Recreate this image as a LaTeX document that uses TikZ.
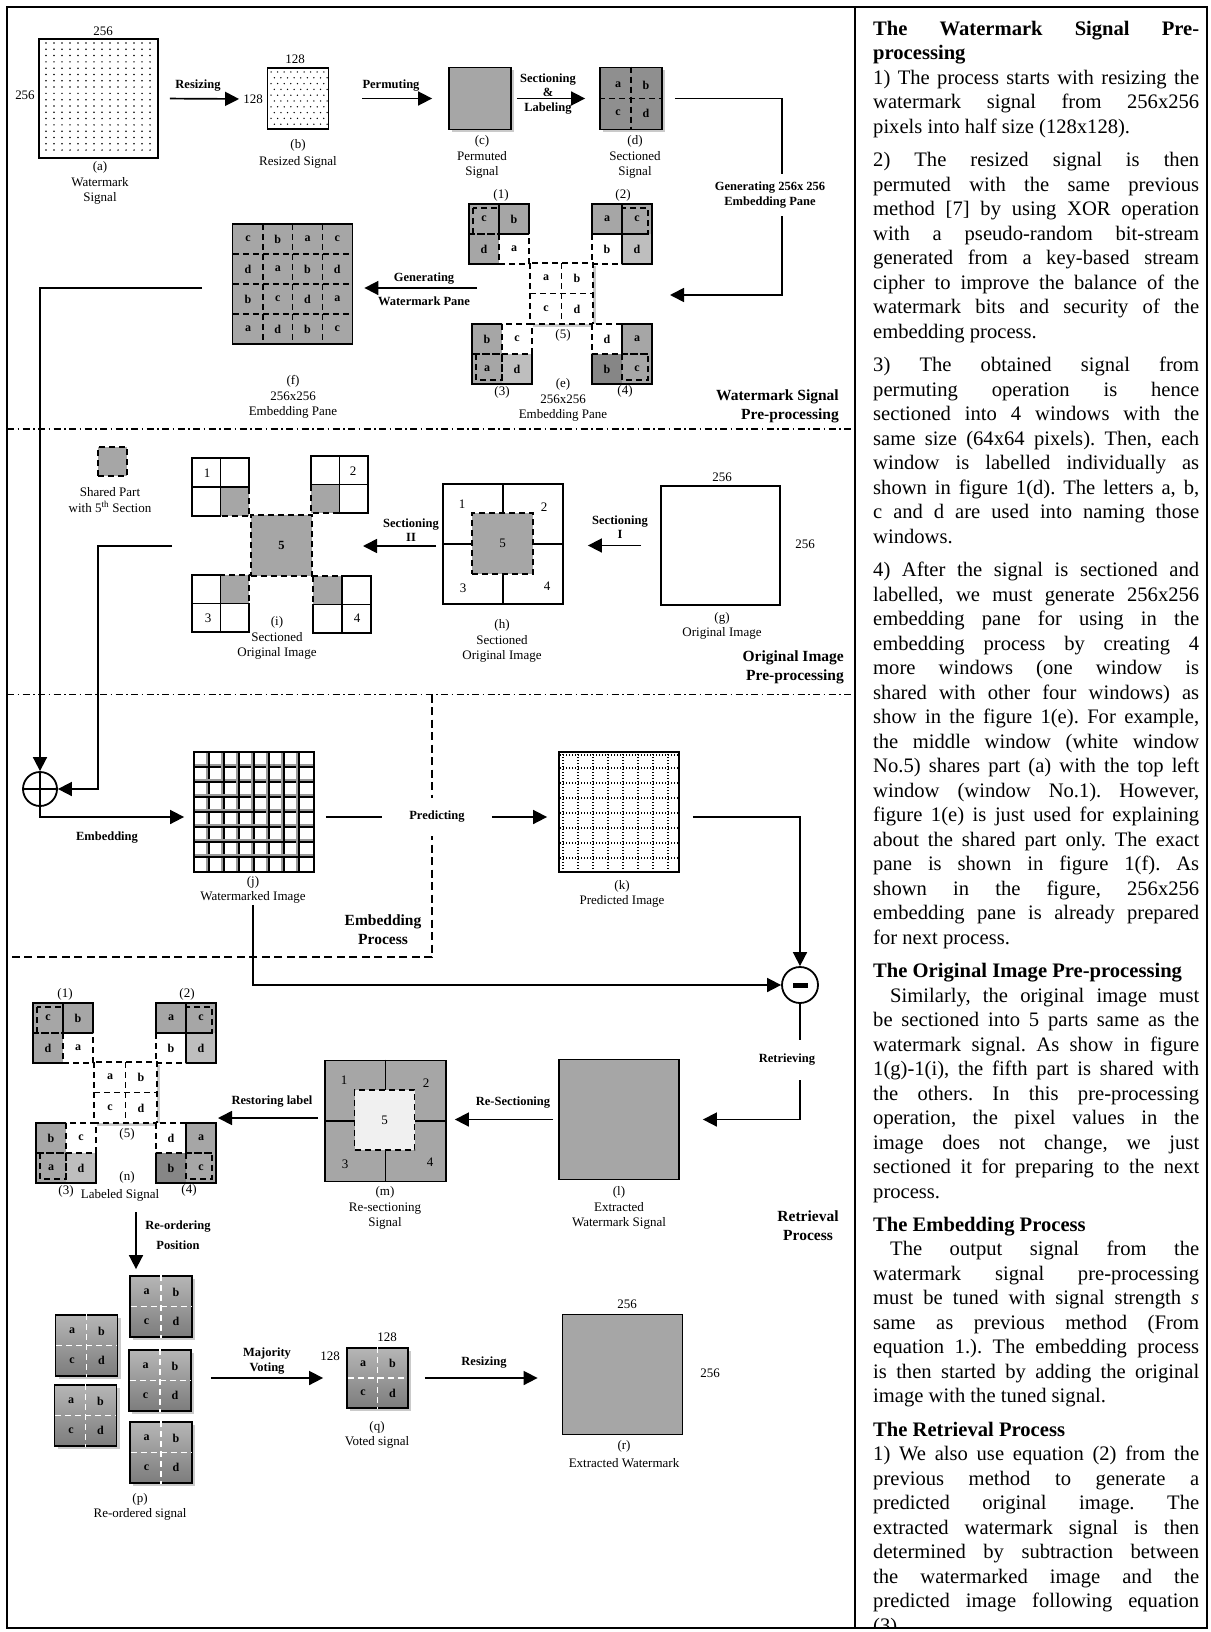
\documentclass[tikz,border=0pt]{standalone}
\usepackage{fontspec}
\setmainfont{Liberation Serif}
\usetikzlibrary{arrows.meta,positioning,calc,shadows}
\definecolor{SigGray}{HTML}{A6A6A6}
\definecolor{SigDark}{HTML}{8F8F8F}
\definecolor{SigLight}{HTML}{BEBEBE}
\definecolor{SigDeep}{HTML}{868686}
\definecolor{SigShadow}{HTML}{CACACA}
\definecolor{SigPale}{HTML}{F0F0F0}
\definecolor{ShadeTop}{HTML}{B6B6B6}
\definecolor{ShadeBot}{HTML}{7C7C7C}
\definecolor{GridShade}{HTML}{9A9A9A}

\newcommand\capsize{\fontsize{13}{15.5}\selectfont}
\newcommand\lblsize{\bfseries\fontsize{12.5}{14.5}\selectfont}
\newcommand\secsize{\bfseries\fontsize{15.5}{19}\selectfont}
\newcommand\cellsize{\bfseries\fontsize{12}{14}\selectfont}

% the 5-window embedding pane, origin = top left of window (1)
\tikzset{
  pics/embpane/.style={code={
    % window (1)
    \fill[SigGray] (0,0) rectangle (60,60);
    \fill[white] (30,30) rectangle (60,60);
    \draw[rim] (30,60) -- (0,60) -- (0,0) -- (60,0) -- (60,30);
    \draw[dashline] (30,0) -- (30,60) (0,30) -- (60,30) (30,30) rectangle (60,60) (4,4) rectangle (30,30);
    \node[cellbf] (-1c) at (15,15) {c};
    \node[cellbf] (-1b) at (45,15) {b};
    \node[cellbf] (-1d) at (15,45) {d};
    \node[cellbf] (-1a) at (45,45) {a};
    % window (2)
    \fill[SigGray] (123,0) rectangle (183,60);
    \fill[SigLight] (153,30) rectangle (183,60);
    \fill[white] (123,30) rectangle (153,60);
    \draw[rim] (153,60) -- (183,60) -- (183,0) -- (123,0) -- (123,30);
    \draw[dashline] (153,0) -- (153,60) (123,30) -- (183,30) (123,30) rectangle (153,60) (153,4) rectangle (179,30);
    \node[cellbf] (-2a) at (138,15) {a};
    \node[cellbf] (-2c) at (168,15) {c};
    \node[cellbf] (-2b) at (138,45) {b};
    \node[cellbf] (-2d) at (168,45) {d};
    % window (5)
    \fill[SigShadow] (64,62) rectangle (127,123);
    \filldraw[fill=white, dashline] (61,59) rectangle (124,120);
    \draw[dashline] (92.5,59) -- (92.5,120) (61,89.5) -- (124,89.5);
    \node[cellbf] (-5a) at (77,74) {a};
    \node[cellbf] (-5b) at (108,74) {b};
    \node[cellbf] (-5c) at (77,105) {c};
    \node[cellbf] (-5d) at (108,105) {d};
    % window (3)
    \fill[SigGray] (3,120) rectangle (63,180);
    \fill[SigLight] (33,150) rectangle (63,180);
    \fill[white] (33,120) rectangle (63,150);
    \draw[rim] (33,120) -- (3,120) -- (3,180) -- (63,180) -- (63,150);
    \draw[dashline] (33,120) -- (33,180) (3,150) -- (63,150) (33,120) rectangle (63,150) (7,150) rectangle (33,176);
    \node[cellbf] (-3b) at (18,135) {b};
    \node[cellbf] (-3c) at (48,135) {c};
    \node[cellbf] (-3a) at (18,165) {a};
    \node[cellbf] (-3d) at (48,165) {d};
    % window (4)
    \fill[SigGray] (123,120) rectangle (183,180);
    \fill[SigDeep] (123,150) rectangle (153,180);
    \fill[white] (123,120) rectangle (153,150);
    \draw[rim] (153,120) -- (183,120) -- (183,180) -- (123,180) -- (123,150);
    \draw[dashline] (153,120) -- (153,180) (123,150) -- (183,150) (123,120) rectangle (153,150) (153,150) rectangle (179,176);
    \node[cellbf] (-4d) at (138,135) {d};
    \node[cellbf] (-4a) at (168,135) {a};
    \node[cellbf] (-4b) at (138,165) {b};
    \node[cellbf] (-4c) at (168,165) {c};
    % window numbers
    \node[captxt] (-n1) at (32,-9) {(1)};
    \node[captxt] (-n2) at (154,-9) {(2)};
    \node[captxt] (-n5) at (94,131) {(5)};
    \node[captxt] (-n3) at (33,188) {(3)};
    \node[captxt] (-n4) at (156,187) {(4)};
  }}
}

\begin{document}
\begin{tikzpicture}[x=1pt,y=-1pt,
  rim/.style={line width=1.8pt},
  dashline/.style={line width=1.5pt, dash pattern=on 6pt off 4pt},
  sepline/.style={line width=1.5pt, dash pattern=on 7pt off 3.5pt on 1.5pt off 3.5pt},
  boxline/.style={line width=1.6pt, dash pattern=on 8pt off 4.5pt},
  dotgrid/.style={line width=1.3pt, dash pattern=on 1.3pt off 1.7pt},
  box/.style={draw, line width=1.8pt, inner sep=0pt, minimum size=#1},
  box/.default=60pt,
  shadowed/.style={drop shadow={shadow xshift=3pt, shadow yshift=-3pt, fill=SigShadow, opacity=1}},
  gquad/.style={draw, line width=1.8pt, inner sep=0pt, minimum width=62pt, minimum height=61pt,
    top color=ShadeTop, bottom color=ShadeBot, shadowed},
  captxt/.style={font=\capsize, align=center, inner sep=1pt},
  lbl/.style={font=\lblsize, align=center, inner sep=1pt},
  sec/.style={font=\secsize, align=center, inner sep=1pt},
  cellbf/.style={font=\cellsize, inner sep=0pt},
  conn/.style={line width=1.7pt},
  arr/.style={line width=1.7pt, -{Triangle[length=14pt,width=14pt]}}]
\useasboundingbox (0,0) rectangle (1210,1632);

% frame and separators
\draw[line width=1.8pt] (7,7) rectangle (1207,1628);
\draw[line width=1.8pt] (855,7) -- (855,1628);
\draw[sepline] (7,429) -- (855,429);
\draw[sepline] (7,694.5) -- (855,694.5);
\draw[boxline] (432,694.5) -- (432,957) -- (7,957);

% ---- watermark signal pre-processing ----
\foreach \i in {0,...,13} \foreach \j in {0,...,17} \fill (46+8*\i, 43+6.3*\j) circle (0.85);
\node[box=119pt] (wa) at (98.5,98.5) {};
\node[captxt] (wa-top) at (103,31) {256};
\node[captxt] (wa-side) at (25,95) {256};
\node[captxt] (wa-cap) at (100,183) {(a)\\Watermark\\Signal};

\foreach \j in {0,...,9} \foreach \i in {0,...,8} \fill ({271+6.6*\i+3.3*mod(\j,2)}, {72+5.8*\j}) circle (0.75);
\node[box=61pt] (wb) at (298,98.5) {};
\node[captxt] (wb-top) at (295,59) {128};
\node[captxt] (wb-side) at (253,99) {128};
\node[captxt] (wb-cap) at (298,154) {(b)\\[1.5pt]Resized Signal};

\node[box=62pt, fill=SigGray, shadowed] (wc) at (480,98.5) {};
\node[captxt] (wc-cap) at (482,157) {(c)\\Permuted\\Signal};

\node[box=62pt, fill=SigDark, shadowed] (wd) at (631,98.5) {};
\draw[dashline] (wd.north) -- (wd.south) (wd.west) -- (wd.east);
\node[cellbf] (wd-a) at (618,85) {a};
\node[cellbf] (wd-b) at (646,85) {b};
\node[cellbf] (wd-c) at (618,113) {c};
\node[cellbf] (wd-d) at (646,113) {d};
\node[captxt] (wd-cap) at (635,157) {(d)\\Sectioned\\Signal};

\draw[arr, shorten <=11pt, shorten >=3pt] (wa.east) -- (wb-side.west);
\node[lbl] (l-resize) at (198,86) {Resizing};
\draw[arr, shorten <=33pt, shorten >=16pt] (wb.east) -- (wc.west);
\node[lbl] (l-perm) at (391,86) {Permuting};
\draw[arr, shorten <=5pt, shorten >=14pt] (wc.east) -- (wd.west);
\node[lbl] (l-sect) at (548,94) {Sectioning\\\&\\Labeling};

\coordinate (d-turn) at (782,98.5);
\coordinate (e-in) at (670,295);
\draw[arr, shorten <=12pt] (wd.east) -- (d-turn) |- (e-in);
\node[lbl, fill=white, inner ysep=8pt] (l-gen) at (770,195) {Generating 256x 256\\Embedding Pane};

\pic (e) at (469,204) {embpane};
\node[captxt] (e-cap) at (563,400) {(e)\\256x256\\Embedding Pane};

\node[box=120pt, fill=SigGray] (wf) at (292.5,284) {};
\foreach \k in {1,2,3} {
  \draw[dashline] ({233+29.75*\k},224) -- ++(0,120);
  \draw[dashline] (233,{224+30*\k}) -- ++(119,0);
}
\foreach \t [count=\k from 0] in {c,b,a,c,d,a,b,d,b,c,d,a,a,d,b,c}
  \node[cellbf] (wf-\k) at ({248+29.75*mod(\k,4)}, {239+30*floor(\k/4)}) {\t};
\node[captxt] (wf-cap) at (293,397) {(f)\\256x256\\Embedding Pane};

\coordinate (e-out) at (477,288);
\draw[arr, shorten >=11pt] (e-out) -- (e-out -| wf.east);
\node[lbl] (l-wpane) at (424,289) {Generating\\[9.5pt]Watermark Pane};

\node[sec, anchor=east, align=right] (s-wm) at (840,406) {Watermark Signal\\Pre-processing};

% ---- original image pre-processing ----
\node[draw, dashline, fill=SigGray, minimum size=29pt, inner sep=0pt] (legend) at (112.5,461.5) {};
\node[captxt] (legend-cap) at (110,500) {Shared Part\\with 5\textsuperscript{th} Section};

% (i) sectioned original image
\fill[SigGray] (220.5,487) rectangle (249,516);
\draw[rim] (192,458) rectangle (249,487) (192,458) rectangle (220.5,516);
\draw[dashline] (220.5,487) rectangle (249,516);
\node[captxt] (wi-1) at (207,473) {1};
\fill[SigGray] (311,484.5) rectangle (339.5,513);
\draw[rim] (311,456) rectangle (368,484.5) (339.5,456) rectangle (368,513);
\draw[dashline] (311,484.5) rectangle (339.5,513);
\node[captxt] (wi-2) at (353,471) {2};
\fill[SigGray] (220.5,575) rectangle (249,603.5);
\draw[rim] (192,575) rectangle (220.5,632) (192,603.5) rectangle (249,632);
\draw[dashline] (220.5,575) rectangle (249,603.5);
\node[captxt] (wi-3) at (208,618) {3};
\fill[SigGray] (313,576) rectangle (342,604.5);
\draw[rim] (342,576) rectangle (371,633) (313,604.5) rectangle (371,633);
\draw[dashline] (313,576) rectangle (342,604.5);
\node[captxt] (wi-4) at (357,618) {4};
\node[draw, dashline, fill=SigGray, minimum size=61pt, inner sep=0pt, font=\lblsize] (wi-5) at (281.5,545.5) {5};
\node[captxt] (wi-cap) at (277,638) {(i)\\Sectioned\\Original Image};

% (h)
\node[box=120pt] (wh) at (503,544) {};
\draw[rim] (wh.north) -- (wh.south) (wh.west) -- (wh.east);
\node[draw, dashline, fill=SigGray, minimum size=61pt, inner sep=0pt, font=\capsize] (wh-5) at (502.5,543.5) {5};
\node[captxt] (wh-1) at (462,504) {1};
\node[captxt] (wh-2) at (544,507) {2};
\node[captxt] (wh-3) at (463,588) {3};
\node[captxt] (wh-4) at (547,586) {4};
\node[captxt] (wh-cap) at (502,641) {(h)\\Sectioned\\Original Image};

% (g)
\node[box=119pt] (wg) at (720.5,545.5) {};
\node[captxt] (wg-top) at (722,477) {256};
\node[captxt] (wg-side) at (805,544) {256};
\node[captxt] (wg-cap) at (722,626) {(g)\\Original Image};

\draw[arr, shorten <=19pt, shorten >=24pt] (wg.west) -- (wg.west -| wh.east);
\node[lbl] (l-sec1) at (620,527) {Sectioning\\I};
\coordinate (i-in) at (363,546);
\draw[arr, shorten <=6pt] (i-in -| wh.west) -- (i-in);
\node[lbl] (l-sec2) at (411,530) {Sectioning\\II};

\node[sec, anchor=east, align=right] (s-oi) at (845,667) {Original Image\\Pre-processing};

% ---- embedding process ----
\node[circle, draw, line width=1.8pt, minimum size=34pt, inner sep=0pt] (plus) at (40,789) {};
\draw[rim] (plus.north) -- (plus.south) (plus.west) -- (plus.east);

\coordinate (f-out) at (202,288);
\draw[arr] (f-out) -| (plus.north);
\coordinate (i-out) at (172,546);
\coordinate (plus-turn) at (98,789);
\draw[arr] (i-out) -| (plus-turn) -- (plus.east);

\foreach \k in {1,...,7} {
  \draw[GridShade, line width=1.4pt] ({194+15*\k-2},752) -- ++(0,120) (194,{752+15*\k-2}) -- ++(120,0);
  \draw[line width=1.6pt] ({194+15*\k},752) -- ++(0,120) (194,{752+15*\k}) -- ++(120,0);
}
\node[box=120pt] (wj) at (254,812) {};
\node[captxt] (wj-cap) at (253,890) {(j)\\Watermarked Image};

\foreach \k in {0,...,7} \draw[dotgrid] ({563+15*\k},754) -- ++(0,117);
\foreach \k in {0,...,6} \draw[dotgrid] (560,{768+15*\k}) -- ++(118,0);
\draw[dotgrid] (560,755) -- ++(118,0);
\node[box=120pt] (wk) at (619,812) {};
\node[captxt] (wk-cap) at (622,894) {(k)\\Predicted Image};

\node[circle, draw, line width=1.8pt, minimum size=36pt, inner sep=0pt] (minus) at (800,985) {};
\fill (792.5,982.5) rectangle (807.5,987.5);

\draw[arr, shorten >=9pt] (plus.south) |- ([yshift=-5pt]wj.west);
\node[lbl] (l-emb) at (107,838) {Embedding};
\node[lbl, fill=white, inner ysep=13pt, inner xsep=3pt] (l-pred) at (437,817) {Predicting};
\draw[conn, shorten <=11pt, shorten >=24pt] (wj.east |- l-pred) -- (l-pred.west);
\draw[arr, shorten <=24pt, shorten >=11pt] (l-pred.east) -- (wk.west |- l-pred);
\draw[arr, shorten <=13pt] (wk.east |- l-pred) -| (minus.north);
\draw[arr] (wj-cap.south) |- (minus.west);

\node[sec] (s-emb) at (383,930) {Embedding\\Process};

% ---- retrieval process ----
\node[box=120pt, fill=SigGray] (wl) at (619,1119.5) {};
\draw[arr, shorten >=23pt] (minus.south) |- (wl.east);
\node[lbl, fill=white, inner ysep=14pt, inner xsep=1pt] (l-ret) at (787,1060) {Retrieving};
\node[captxt] (wl-cap) at (619,1208) {(l)\\Extracted\\Watermark Signal};

\node[box=121pt, fill=SigGray] (wm) at (385.5,1121) {};
\draw[rim] (wm.north) -- (wm.south) (wm.west) -- (wm.east);
\node[draw, dashline, fill=SigPale, minimum size=60pt, inner sep=0pt, font=\capsize] (wm-5) at (384.5,1120) {5};
\node[captxt] (wm-1) at (344,1080) {1};
\node[captxt] (wm-2) at (426,1083) {2};
\node[captxt] (wm-3) at (345,1164) {3};
\node[captxt] (wm-4) at (430,1162) {4};
\node[captxt] (wm-cap) at (385,1208) {(m)\\Re-sectioning\\Signal};

\draw[arr, shorten <=5pt, shorten >=8pt] (wl.west) -- (wl.west -| wm.east);
\node[lbl] (l-resec) at (513,1103) {Re-Sectioning};
\coordinate (n-in) at (218,1118);
\draw[arr, shorten <=6pt] (n-in -| wm.west) -- (n-in);
\node[lbl] (l-restore) at (272,1102) {Restoring label};

\pic (n) at (33,1003) {embpane};
\node[captxt] (n-cap) at (127,1177) {(n)};
\node[captxt] (n-cap2) at (120,1195) {Labeled Signal};

\node[sec] (s-ret) at (808,1226) {Retrieval\\Process};

% re-ordered, voted and extracted signals
\node[gquad] (p1) at (161,1306.5) {};
\node[gquad] (p2) at (160,1380.5) {};
\node[gquad] (p3) at (161,1452.5) {};
\node[gquad] (p4) at (86.5,1345.5) {};
\node[gquad] (p5) at (85.5,1415.5) {};
\node[gquad, minimum width=61pt, minimum height=60pt] (wq) at (377.5,1378) {};
\foreach \q in {p1,p2,p3,p4,p5,wq} {
  \draw[white, dashline, shorten <=1.8pt, shorten >=1.8pt] (\q.north) -- (\q.south) (\q.west) -- (\q.east);
  \node[cellbf] (\q-a) at ($(\q)+(-14.5,-14.5)$) {a};
  \node[cellbf] (\q-b) at ($(\q)+(15,-14.5)$) {b};
  \node[cellbf] (\q-c) at ($(\q)+(-14.5,15)$) {c};
  \node[cellbf] (\q-d) at ($(\q)+(15,15)$) {d};
}
\node[captxt] (p-cap) at (140,1507) {(p)\\Re-ordered signal};
\node[captxt] (wq-top) at (387,1337) {128};
\node[captxt] (wq-side) at (330,1356) {128};
\node[captxt] (wq-cap) at (377,1435) {(q)\\Voted signal};

\node[box=120pt, fill=SigGray] (wr) at (622.5,1374.5) {};
\node[captxt] (wr-top) at (627,1304) {256};
\node[captxt] (wr-side) at (710,1373) {256};
\node[captxt] (wr-cap) at (624,1454) {(r)\\[2pt]Extracted Watermark};

\coordinate (n-out) at (136,1212);
\draw[arr, shorten >=6pt] (n-out) -- (n-out |- p1.north);
\node[lbl] (l-reord) at (178,1235) {Re-ordering\\[6pt]Position};
\draw[arr, shorten <=19pt, shorten >=23pt] (p2.east |- wq.west) -- (wq.west);
\node[lbl] (l-vote) at (267,1361) {Majority\\Voting};
\draw[arr, shorten <=16pt, shorten >=24pt] (wq.east) -- (wq.east -| wr.west);
\node[lbl] (l-resize2) at (484,1363) {Resizing};

% ---- notes column ----
\begin{scope}
\clip (855,7) rectangle (1207,1628);
\node[anchor=north west, text width=326pt, align=justify, inner sep=0pt, font=\fontsize{20.6}{24.5}\selectfont] (notes) at (873,21) {%
\parskip=8.9pt\parindent=0pt\tolerance=10000\hyphenpenalty=10000\exhyphenpenalty=10000\frenchspacing
{\bfseries The Watermark Signal Pre-\linebreak processing}\newline
1) The process starts with resizing the\linebreak watermark signal from 256x256\linebreak pixels into half size (128x128).\par
2) The resized signal is then\linebreak permuted with the same previous\linebreak method [7] by using XOR operation\linebreak with a pseudo-random bit-stream\linebreak generated from a key-based stream\linebreak cipher to improve the balance of the\linebreak watermark bits and security of the\linebreak embedding process.\par
3) The obtained signal from\linebreak permuting operation is hence\linebreak sectioned into 4 windows with the\linebreak same size (64x64 pixels). Then, each\linebreak window is labelled individually as\linebreak shown in figure 1(d). The letters a, b,\linebreak c and d are used into naming those\linebreak windows.\par
4) After the signal is sectioned and\linebreak labelled, we must generate 256x256\linebreak embedding pane for using in the\linebreak embedding process by creating 4\linebreak more windows (one window is\linebreak shared with other four windows) as\linebreak show in the figure 1(e). For example,\linebreak the middle window (white window\linebreak No.5) shares part (a) with the top left\linebreak window (window No.1). However,\linebreak figure 1(e) is just used for explaining\linebreak about the shared part only. The exact\linebreak pane is shown in figure 1(f). As\linebreak shown in the figure, 256x256\linebreak embedding pane is already prepared\linebreak for next process.\par
{\bfseries The Original Image Pre-processing}\newline
\hspace*{17pt}Similarly, the original image must\linebreak be sectioned into 5 parts same as the\linebreak watermark signal. As show in figure\linebreak 1(g)-1(i), the fifth part is shared with\linebreak the others. In this pre-processing\linebreak operation, the pixel values in the\linebreak image does not change, we just\linebreak sectioned it for preparing to the next\linebreak process.\par
{\bfseries The Embedding Process}\newline
\hspace*{17pt}The output signal from the\linebreak watermark signal pre-processing\linebreak must be tuned with signal strength \textit{s}\linebreak same as previous method (From\linebreak equation 1.). The embedding process\linebreak is then started by adding the original\linebreak image with the tuned signal.\par
{\bfseries The Retrieval Process}\newline
1) We also use equation (2) from the\linebreak previous method to generate a\linebreak predicted original image. The\linebreak extracted watermark signal is then\linebreak determined by subtraction between\linebreak the watermarked image and the\linebreak predicted image following equation\linebreak (3).\par};
\end{scope}
\end{tikzpicture}
\end{document}
